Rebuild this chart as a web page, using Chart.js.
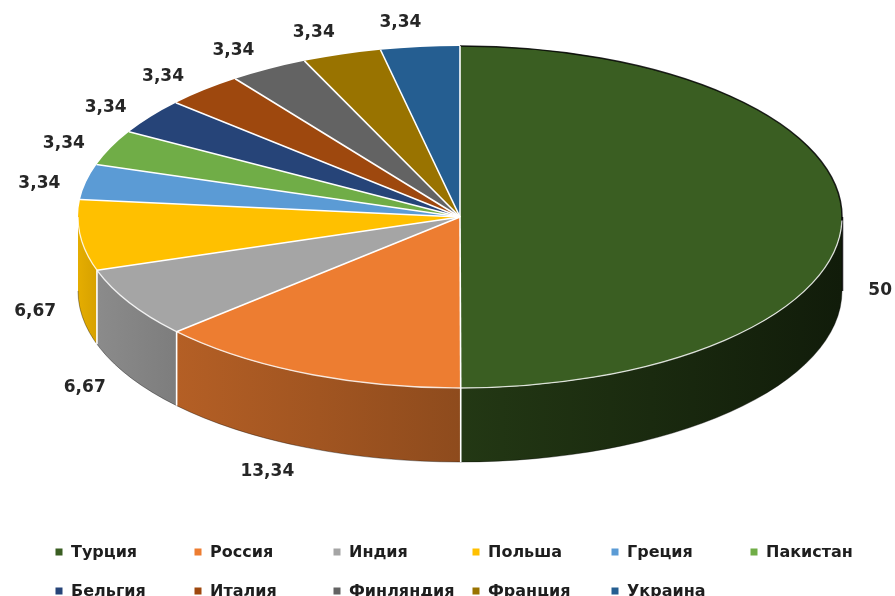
<!DOCTYPE html>
<html>
<head>
<meta charset="utf-8">
<script src="https://cdn.jsdelivr.net/npm/chart.js@4.4.1/dist/chart.umd.min.js"></script>
<style>
  html, body { margin: 0; padding: 0; background: #fff; }
  #chart { display: block; }
</style>
</head>
<body>
<canvas id="chart" width="895" height="596"></canvas>
<script>
// shares by country, %
const countries = ['Турция', 'Россия', 'Индия', 'Польша', 'Греция', 'Пакистан', 'Бельгия', 'Италия', 'Финляндия', 'Франция', 'Украина'];
const shares = [50, 13.34, 6.67, 6.67, 3.34, 3.34, 3.34, 3.34, 3.34, 3.34, 3.34];
const sliceColors = ['#3a5e22', '#ed7d31', '#a5a5a5', '#ffc000', '#5b9bd5', '#70ad47', '#264478', '#9e480e', '#636363', '#997300', '#255e91'];

// where the tilted disc sits on the page
const disc = { cx: 460, cy: 217, rx: 382, ry: 171, depth: 74 };

function shade(hex, f) {
  const n = parseInt(hex.slice(1), 16);
  const r = (n >> 16) & 255, g = (n >> 8) & 255, b = n & 255;
  return `rgb(${Math.round(r * f)},${Math.round(g * f)},${Math.round(b * f)})`;
}
const ex = (a) => disc.cx + disc.rx * Math.cos(a);
const ey = (a) => disc.cy + disc.ry * Math.sin(a);
const fmt = (v) => String(v).replace('.', ',');

const tilt = {
  id: 'tilt',
  beforeDatasetsDraw(chart) {
    const ctx = chart.ctx;
    const arcs = chart.getDatasetMeta(0).data;

    // side walls: only the front half (0..PI) shows
    arcs.forEach((arc, i) => {
      const a1 = Math.max(arc.startAngle, 0);
      const a2 = Math.min(arc.endAngle, Math.PI);
      if (a2 <= a1) return;
      const grad = ctx.createLinearGradient(ex(a1), 0, ex(a2), 0);
      grad.addColorStop(0, shade(sliceColors[i], 0.3 + 0.6 * a1 / Math.PI));
      grad.addColorStop(1, shade(sliceColors[i], 0.3 + 0.6 * a2 / Math.PI));
      ctx.beginPath();
      ctx.ellipse(disc.cx, disc.cy, disc.rx, disc.ry, 0, a1, a2);
      ctx.ellipse(disc.cx, disc.cy + disc.depth, disc.rx, disc.ry, 0, a2, a1, true);
      ctx.closePath();
      ctx.fillStyle = grad;
      ctx.fill();
    });

    // bottom edge of the wall
    ctx.beginPath();
    ctx.ellipse(disc.cx, disc.cy + disc.depth, disc.rx, disc.ry, 0, 0, Math.PI);
    ctx.strokeStyle = 'rgba(0,0,0,.35)';
    ctx.lineWidth = 1;
    ctx.stroke();

    // squash the library's round pie into the top face
    const a0 = arcs[0];
    ctx.save();
    ctx.translate(disc.cx, disc.cy);
    ctx.scale(disc.rx / a0.outerRadius, disc.ry / a0.outerRadius);
    ctx.translate(-a0.x, -a0.y);
  },

  afterDatasetsDraw(chart) {
    const ctx = chart.ctx;
    ctx.restore();
    const arcs = chart.getDatasetMeta(0).data;

    // dark outline at the back of the big slice
    ctx.beginPath();
    ctx.ellipse(disc.cx, disc.cy, disc.rx, disc.ry, 0, -Math.PI / 2, 0.05);
    ctx.strokeStyle = 'rgba(0,0,0,.85)';
    ctx.lineWidth = 1.5;
    ctx.stroke();
    ctx.beginPath();
    ctx.moveTo(ex(0) + 0.5, ey(0));
    ctx.lineTo(ex(0) + 0.5, ey(0) + disc.depth);
    ctx.stroke();

    // light rim between top and wall
    ctx.beginPath();
    ctx.ellipse(disc.cx, disc.cy, disc.rx, disc.ry, 0, 0.02, Math.PI);
    ctx.strokeStyle = 'rgba(255,255,255,.8)';
    ctx.lineWidth = 1.3;
    ctx.stroke();

    // white borders between slices
    ctx.strokeStyle = '#ffffff';
    ctx.lineWidth = 1.6;
    arcs.forEach((arc) => {
      const a = arc.startAngle;
      ctx.beginPath();
      ctx.moveTo(disc.cx, disc.cy);
      ctx.lineTo(ex(a), ey(a));
      ctx.stroke();
      if (a > 0.01 && a < Math.PI - 0.01) {
        ctx.beginPath();
        ctx.moveTo(ex(a), ey(a));
        ctx.lineTo(ex(a), ey(a) + disc.depth);
        ctx.stroke();
      }
    });
  },

  afterDraw(chart) {
    const ctx = chart.ctx;
    const arcs = chart.getDatasetMeta(0).data;

    // value labels outside the rim
    ctx.save();
    ctx.font = 'bold 17px "DejaVu Sans"';
    ctx.fillStyle = '#262626';
    ctx.textAlign = 'center';
    ctx.textBaseline = 'middle';
    arcs.forEach((arc, i) => {
      let mid = (arc.startAngle + arc.endAngle) / 2;
      const front = Math.sin(mid) > -0.05;
      mid += front ? 0.056 * Math.sin(mid) : -0.035;
      const text = fmt(shares[i]);
      const half = ctx.measureText(text).width / 2;
      let x = disc.cx + (disc.rx + 45) * Math.cos(mid);
      x = Math.min(Math.max(x, half + 2), chart.width - half - 3);
      const y = disc.cy + (disc.ry + (front ? 31 : 25)) * Math.sin(mid) + (front ? disc.depth : 0);
      ctx.fillText(text, x, y);
    });

    // legend grid, 6 per row
    ctx.font = 'bold 16px "DejaVu Sans"';
    ctx.textAlign = 'left';
    countries.forEach((name, i) => {
      const col = i % 6, row = Math.floor(i / 6);
      const mx = 59 + col * 139;
      const my = 552 + row * 39;
      ctx.fillStyle = sliceColors[i];
      ctx.fillRect(mx - 3.5, my - 3.5, 7, 7);
      ctx.fillStyle = '#1e1e1e';
      ctx.fillText(name, mx + 12, my + 1);
    });
    ctx.restore();
  }
};

new Chart(document.getElementById('chart'), {
  type: 'pie',
  data: {
    labels: countries,
    datasets: [{
      data: shares,
      backgroundColor: sliceColors,
      borderWidth: 0,
      clip: false,
    }],
  },
  options: {
    responsive: false,
    animation: false,
    events: [],
    plugins: {
      legend: { display: false },
      tooltip: { enabled: false },
    },
  },
  plugins: [tilt],
});
</script>
</body>
</html>
